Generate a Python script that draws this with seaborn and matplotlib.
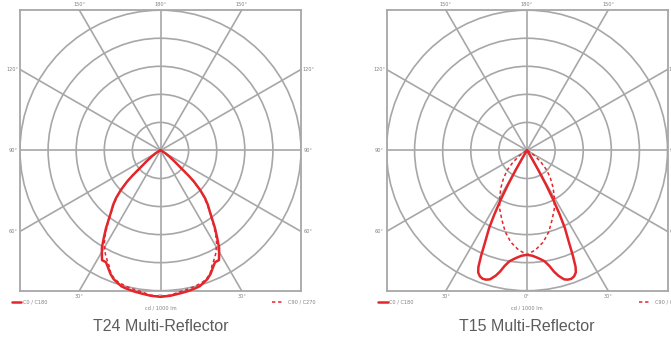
import numpy as np
import pandas as pd
import matplotlib
matplotlib.use("Agg")
import matplotlib.pyplot as plt
from matplotlib.patches import Circle
import seaborn as sns

# ---------------- data (intensity in cd/1000 lm, ring step = 50) ----------------
RING = 50.0
titles = ["T24 Multi-Reflector", "T15 Multi-Reflector"]
series_names = ["C0 / C180", "C90 / C270"]

t24_gamma = [0, 4, 8, 11, 14, 16, 18, 20, 22, 24, 26, 28, 29, 31, 33, 35, 37, 39,
             41, 43, 45, 47, 48, 49, 50, 52, 55, 60, 70, 90]
t24_c0 = [261, 259.5, 257, 255.5, 253.5, 252, 248, 244, 237.5, 229, 221.5, 221.5,
          215, 202.5, 185, 169, 152.5, 139, 128.5, 116, 100, 81, 67.5, 52.5, 42.5,
          31, 20, 10, 2.5, 0]
t24_c90 = [260, 258.5, 254, 252, 250, 248, 246, 242, 236, 225, 217, 209, 204, 194,
           181, 166, 151, 138, 126, 114, 99, 81, 69, 56, 46, 33, 21, 11, 3, 0]

t15_gamma = [0, 3, 6, 9, 11, 12.5, 14, 16, 17.5, 19, 20.5, 21.8, 22.6, 23.5, 24.5,
             26, 27, 28, 29, 30, 31, 33, 45, 90]
t15_c0 = [186, 188, 193, 200, 210, 221, 230, 239, 241.5, 242, 239.5, 234, 225, 205,
          180, 153.5, 127.5, 100, 70, 40, 20, 7.5, 1.5, 0]
t15_c90_gamma = [0, 5, 10, 15, 20, 25, 30, 35, 40, 45, 50, 55, 60, 70, 90]
t15_c90 = [186, 177.5, 166, 150, 131, 115, 97.5, 81, 65, 50, 32.5, 17.5, 7.5, 1.5, 0]

angle_labels_top = ["150°", "180°", "150°"]
angle_labels_side = ["120°", "90°", "60°"]
angle_labels_bottom = ["30°", "0°", "30°"]
unit_label = "cd / 1000 lm"

RED = "#e3262b"
GRID = "#a7a7a9"
TXT = "#808080"


def closed_curve(gamma, values, name):
    g = np.asarray(gamma, float)
    v = np.asarray(values, float)
    # right half (C0) then left half (C180) mirrored
    ang = np.concatenate([g[::-1], -g[1:]])
    rr = np.concatenate([v[::-1], v[1:]])
    th = np.radians(ang)
    return pd.DataFrame({"x": rr * np.sin(th), "y": -rr * np.cos(th), "series": name})


sns.set_style("white")
plt.rcParams["font.family"] = ["DejaVu Sans"]

fig = plt.figure(figsize=(6.71, 3.40), dpi=100)
W, H = 671.0, 340.0
panels = [
    (20.0, [(t24_gamma, t24_c0), (t24_gamma, t24_c90)]),
    (386.5, [(t15_gamma, t15_c0), (t15_c90_gamma, t15_c90)]),
]

for i, (left_px, curves) in enumerate(panels):
    ax = fig.add_axes([left_px / W, (H - 290.7) / H, 281.0 / W, 280.5 / H])
    lim = 5 * RING
    ax.set_xlim(-lim, lim)
    ax.set_ylim(-lim, lim)
    ax.set_xticks([])
    ax.set_yticks([])
    for s in ax.spines.values():
        s.set_color(GRID)
        s.set_linewidth(1.3)

    # grid: rings and rays
    for k in range(1, 6):
        ax.add_patch(Circle((0, 0), k * RING, fill=False, ec=GRID, lw=1.2, zorder=1))
    for a in range(0, 180, 30):
        t = np.radians(a)
        L = 10 * RING
        ax.plot([-L * np.sin(t), L * np.sin(t)], [L * np.cos(t), -L * np.cos(t)],
                color=GRID, lw=1.2, zorder=1)

    dfs = [closed_curve(g, v, n) for (g, v), n in zip(curves, series_names)]
    sns.lineplot(data=dfs[1], x="x", y="y", sort=False, estimator=None, ax=ax,
                 color=RED, lw=1.1, dashes=False, zorder=3)
    ax.lines[-1].set_linestyle((0, (2.2, 1.8)))
    sns.lineplot(data=dfs[0], x="x", y="y", sort=False, estimator=None, ax=ax,
                 color=RED, lw=1.8, zorder=4)
    for ln in ax.lines[-2:]:
        ln.set_clip_on(False)
    ax.set_xlabel("")
    ax.set_ylabel("")

    # angle labels
    tx = 5 * np.tan(np.radians(30))
    fs = 3.6
    for xx, lab in zip([-tx, 0, tx], angle_labels_top):
        ax.text(xx * RING, 5.22 * RING, lab, ha="center", va="center", fontsize=fs,
                color=TXT, clip_on=False)
    for xx, lab in zip([-tx, 0, tx], angle_labels_bottom):
        ax.text(xx * RING, -5.22 * RING, lab, ha="center", va="center", fontsize=fs,
                color=TXT, clip_on=False)
    for yy, lab in zip([tx, 0, -tx], angle_labels_side):
        ax.text(-5.25 * RING, yy * RING, lab, ha="center", va="center", fontsize=fs,
                color=TXT, clip_on=False)
        ax.text(5.25 * RING, yy * RING, lab, ha="center", va="center", fontsize=fs,
                color=TXT, clip_on=False)

    # legend
    ax.plot([-5.3 * RING, -4.95 * RING], [-5.41 * RING, -5.41 * RING], color=RED,
            lw=1.8, clip_on=False)
    ax.text(-4.9 * RING, -5.41 * RING, series_names[0], ha="left", va="center",
            fontsize=fs, color=TXT, clip_on=False)
    ax.plot([3.97 * RING, 4.35 * RING], [-5.41 * RING, -5.41 * RING], color=RED,
            lw=1.1, ls=(0, (2.2, 1.8)), clip_on=False)
    ax.text(4.55 * RING, -5.41 * RING, series_names[1], ha="left", va="center",
            fontsize=fs, color=TXT, clip_on=False)
    ax.text(0, -5.63 * RING, unit_label, ha="center", va="center", fontsize=fs,
            color=TXT, clip_on=False)

    ax.text(0, -6.27 * RING, titles[i], ha="center", va="center", fontsize=11.5,
            color="#5c5c5c", family=["Liberation Sans", "DejaVu Sans"], clip_on=False)

fig.savefig("out.png", dpi=100)
